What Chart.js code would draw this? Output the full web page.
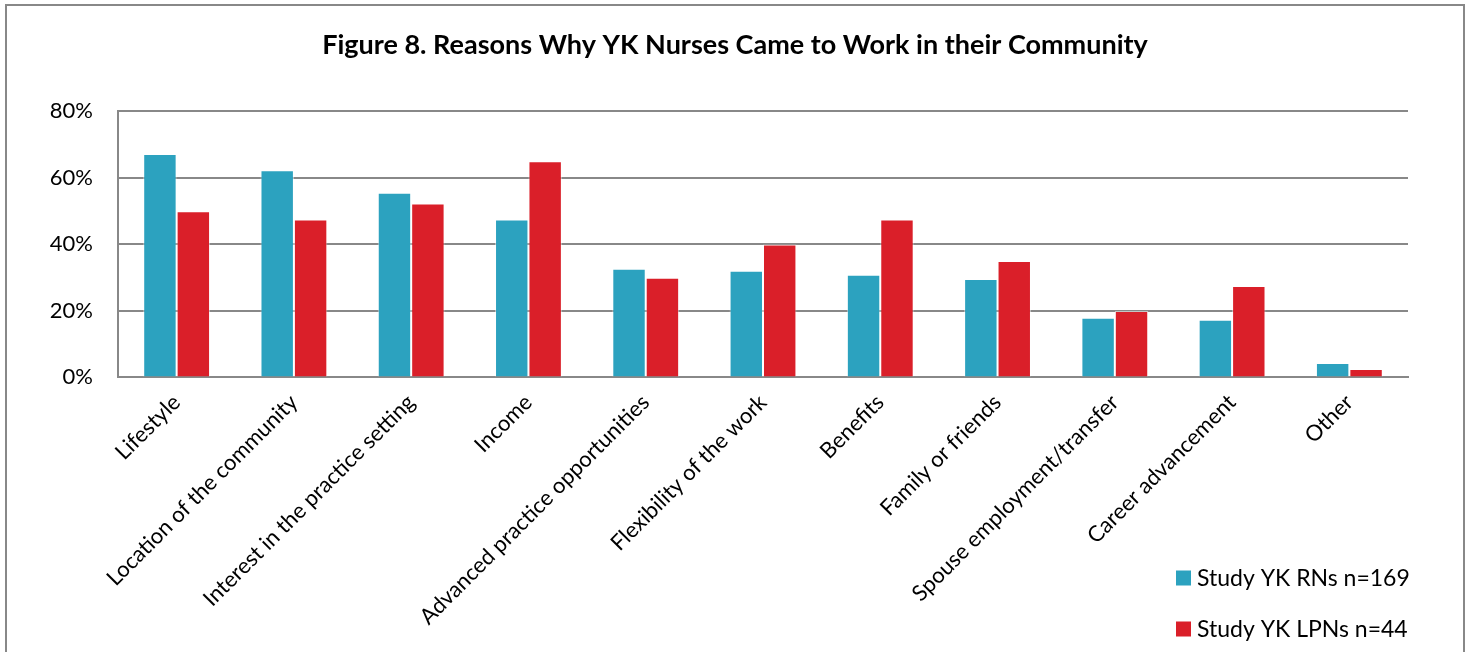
<!DOCTYPE html>
<html>
<head>
<meta charset="utf-8">
<script src="https://cdn.jsdelivr.net/npm/chart.js"></script>
<style>
  html, body { margin: 0; padding: 0; background: #fff; }
  #wrap { width: 1470px; height: 652px; }
</style>
</head>
<body>
<div id="wrap"><canvas id="myChart" width="1470" height="652"></canvas></div>
<script>
const categories = [
    'Lifestyle',
    'Location of the community',
    'Interest in the practice setting',
    'Income',
    'Advanced practice opportunities',
    'Flexibility of the work',
    'Benefits',
    'Family or friends',
    'Spouse employment/transfer',
    'Career advancement',
    'Other'
];

const rnValues  = [67.2, 62.3, 55.5, 47.5, 32.7, 32.1, 30.9, 29.6, 17.9, 17.3, 4.3];
const lpnValues = [50.0, 47.5, 52.3, 65.0, 30.0, 40.0, 47.5, 35.0, 20.0, 27.5, 2.5];

const yTicks = [0, 20, 40, 60, 80];

const rnColor = '#2ca2bf';
const lpnColor = '#da1f29';
const gridGray = '#888888';
const fontFamily = 'Lato, "Open Sans", sans-serif';

// outer frame around the figure
const framePlugin = {
    id: 'frame',
    beforeDraw(chart) {
        const ctx = chart.ctx;
        ctx.save();
        ctx.fillStyle = '#fff';
        ctx.fillRect(0, 0, chart.width, chart.height);
        ctx.strokeStyle = gridGray;
        ctx.lineWidth = 2;
        ctx.strokeRect(6, 5, 1458, 700);
        ctx.restore();
    }
};

// legend stacked at bottom right, inside the label area
const legendPlugin = {
    id: 'cornerLegend',
    afterDraw(chart) {
        const ctx = chart.ctx;
        ctx.save();
        ctx.font = '23px ' + fontFamily;
        ctx.textBaseline = 'middle';
        ctx.textAlign = 'left';
        chart.data.datasets.forEach((ds, i) => {
            const y = 578 + i * 51;
            ctx.fillStyle = ds.backgroundColor;
            ctx.fillRect(1176, y - 7.5, 15, 15);
            ctx.fillStyle = '#000';
            ctx.fillText(ds.label, 1197, y + 1);
        });
        ctx.restore();
    }
};

const data = {
    labels: categories,
    datasets: [{
        label: 'Study YK RNs n=169',
        backgroundColor: rnColor,
        borderColor: 'rgba(255,255,255,0.5)',
        borderWidth: 1,
        data: rnValues
    },
    {
        label: 'Study YK LPNs n=44',
        backgroundColor: lpnColor,
        borderColor: 'rgba(255,255,255,0.5)',
        borderWidth: 1,
        data: lpnValues
    }]
};

const config = {
    type: 'bar',
    data: data,
    plugins: [framePlugin, legendPlugin],
    options: {
        responsive: false,
        animation: false,
        layout: {
            padding: { left: 0, right: 0, top: 0, bottom: 18 }
        },
        datasets: {
            bar: {
                categoryPercentage: 0.57,
                barPercentage: 1.0
            }
        },
        plugins: {
            legend: { display: false },
            tooltip: { enabled: false },
            title: {
                display: true,
                text: 'Figure 8. Reasons Why YK Nurses Came to Work in their Community',
                color: '#000',
                font: { family: fontFamily, size: 27, weight: 'bold', lineHeight: 1.2 },
                padding: { top: 29, bottom: 50 }
            }
        },
        scales: {
            x: {
                grid: { display: false },
                border: { display: true, color: gridGray, width: 2 },
                ticks: {
                    color: '#000',
                    font: { family: fontFamily, size: 22 },
                    minRotation: 45,
                    maxRotation: 45,
                    autoSkip: false,
                    padding: 4
                }
            },
            y: {
                min: 0,
                max: 80,
                afterBuildTicks: (scale) => {
                    scale.ticks = yTicks.map(v => ({ value: v }));
                },
                afterFit: (scale) => {
                    scale.width = 118;
                },
                grid: { color: gridGray, lineWidth: 2, drawTicks: false },
                border: { display: true, color: gridGray, width: 2 },
                ticks: {
                    color: '#000',
                    font: { family: fontFamily, size: 22 },
                    padding: 25,
                    callback: (v) => v + '%'
                }
            },
            // empty right margin so the title stays centred on the whole figure
            yRight: {
                position: 'right',
                grid: { display: false },
                border: { display: false },
                ticks: { display: false },
                afterFit: (scale) => {
                    scale.width = 62;
                }
            }
        }
    }
};

const myChart = new Chart(document.getElementById('myChart'), config);
</script>
</body>
</html>
